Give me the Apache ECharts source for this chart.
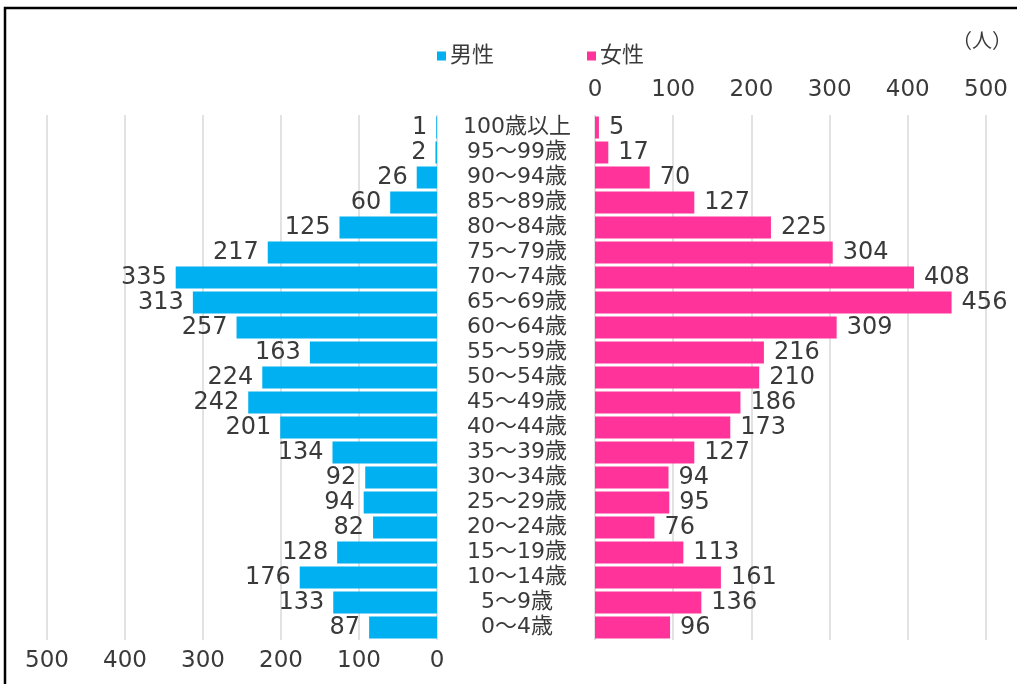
<!DOCTYPE html>
<html>
<head>
<meta charset="utf-8">
<script src="https://cdn.jsdelivr.net/npm/echarts@6/dist/echarts.min.js"></script>
<style>html,body{margin:0;padding:0;background:#fff;}#c{width:1017px;height:684px;}</style>
</head>
<body>
<div id="c"></div>
<script>
const categories = ['100歳以上','95～99歳','90～94歳','85～89歳','80～84歳','75～79歳','70～74歳','65～69歳','60～64歳','55～59歳','50～54歳','45～49歳','40～44歳','35～39歳','30～34歳','25～29歳','20～24歳','15～19歳','10～14歳','5～9歳','0～4歳'];
const male = [1,2,26,60,125,217,335,313,257,163,224,242,201,134,92,94,82,128,176,133,87];
const female = [5,17,70,127,225,304,408,456,309,216,210,186,173,127,94,95,76,113,161,136,96];
const seriesNames = ['男性','女性'];
const unitLabel = '（人）';

const FONT = "'DejaVu Sans', 'Noto Sans CJK JP', sans-serif";
const TXT = '#3a3a3a';
const BLUE = '#00B0F0';
const PINK = '#FF3399';

const chart = echarts.init(document.getElementById('c'));
chart.setOption({
  animation: false,
  textStyle: { fontFamily: FONT },
  graphic: [
    { type: 'rect', shape: { x: 5, y: 8, width: 1100, height: 800 }, style: { fill: 'none', stroke: '#000', lineWidth: 2.5 } },
    { type: 'text', left: 952, top: 33, style: { text: unitLabel, fontSize: 20, fill: TXT, fontFamily: FONT } }
  ],
  legend: {
    left: 432, top: 40,
    itemWidth: 9, itemHeight: 9, itemGap: 93,
    icon: 'rect',
    textStyle: { fontSize: 22, color: TXT, fontFamily: FONT, padding: [0,0,0,-1] },
    data: seriesNames
  },
  grid: [
    { left: 47, right: 1017 - 437, top: 115, bottom: 684 - 640, containLabel: false },
    { left: 595, right: 1017 - 986, top: 115, bottom: 684 - 640, containLabel: false }
  ],
  xAxis: [
    { gridIndex: 0, type: 'value', inverse: true, min: 0, max: 500, interval: 100, position: 'bottom',
      axisLine: { show: false }, axisTick: { show: false },
      axisLabel: { fontSize: 23, color: TXT, margin: 10, fontFamily: FONT },
      splitLine: { show: true, lineStyle: { color: '#d9d9d9', width: 1.5 } } },
    { gridIndex: 1, type: 'value', min: 0, max: 500, interval: 100, position: 'top',
      axisLine: { show: false }, axisTick: { show: false },
      axisLabel: { fontSize: 23, color: TXT, margin: 13, fontFamily: FONT },
      splitLine: { show: true, lineStyle: { color: '#d9d9d9', width: 1.5 } } }
  ],
  yAxis: [
    { gridIndex: 0, type: 'category', data: categories, inverse: true,
      axisLine: { show: false }, axisTick: { show: false }, axisLabel: { show: false } },
    { gridIndex: 1, type: 'category', data: categories, inverse: true,
      axisLine: { show: false }, axisTick: { show: false },
      axisLabel: { show: true, interval: 0, align: 'center', margin: 78, fontSize: 22, color: TXT, fontFamily: FONT } }
  ],
  series: [
    { name: seriesNames[0], type: 'bar', xAxisIndex: 0, yAxisIndex: 0, data: male,
      barCategoryGap: '12%', itemStyle: { color: BLUE },
      label: { show: true, position: 'left', distance: 9, fontSize: 24, color: TXT, fontFamily: FONT } },
    { name: seriesNames[1], type: 'bar', xAxisIndex: 1, yAxisIndex: 1, data: female,
      barCategoryGap: '12%', itemStyle: { color: PINK },
      label: { show: true, position: 'right', distance: 10, fontSize: 24, color: TXT, fontFamily: FONT } }
  ]
});
</script>
</body>
</html>
